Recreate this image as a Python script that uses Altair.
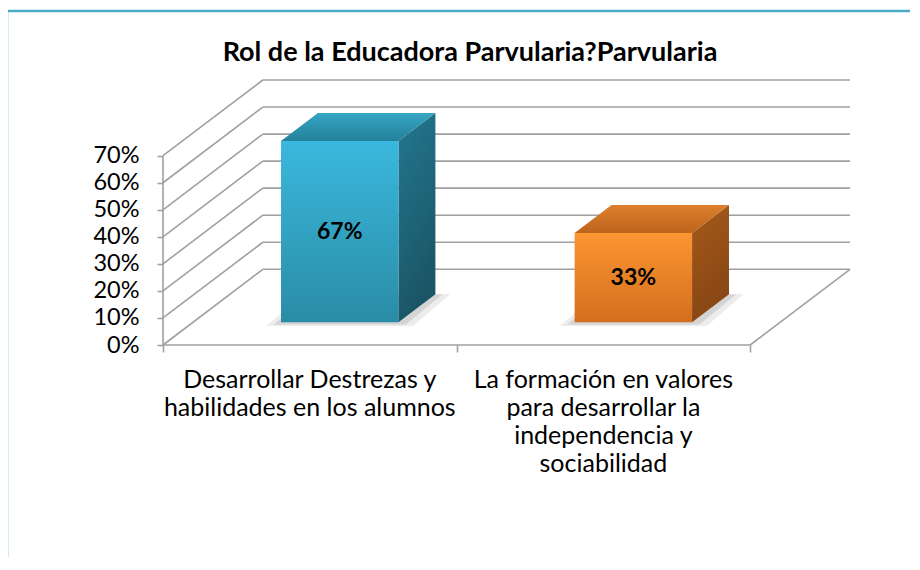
import altair as alt
import pandas as pd

# ---------------- data ----------------
categories = [
    "Desarrollar Destrezas y\nhabilidades en los alumnos",
    "La formación en valores\npara desarrollar la\nindependencia  y\nsociabilidad",
]
values = [0.67, 0.33]
value_labels = ["67%", "33%"]
y_ticks = [0.0, 0.1, 0.2, 0.3, 0.4, 0.5, 0.6, 0.7]
title_text = "Rol de la Educadora Parvularia?Parvularia"

# ---------------- styles ----------------
front_top = ["#3AB8DD", "#FC9532"]
front_bottom = ["#2A8CA6", "#D46F1E"]
top_light = ["#36A6C4", "#DD7F2D"]
top_dark = ["#23809A", "#BD641C"]
side_top = ["#237890", "#A55A1A"]
side_bottom = ["#1A5565", "#874614"]

FONT = "Lato"
GRID = "#A0A0A0"
FRAME = "#4BACC6"
DX, DY = 0.34, 0.28          # depth of the 3D box (x in category units, y in value units)
FRONT, DEPTH, BAR_W = 0.30, 0.37, 0.40
n = len(categories)

xs = alt.Scale(domain=[0, n + DX], nice=False, zero=False)
ys = alt.Scale(domain=[0, 0.98], nice=False, zero=False)
x_axis = alt.Axis(values=list(range(n + 1)), labels=False, domain=False, grid=False,
                  ticks=True, tickSize=7, tickColor=GRID, tickWidth=1.6, title=None)
y_axis = alt.Axis(values=y_ticks, format=".0%", domain=False, grid=False, tickSize=6,
                  tickColor=GRID, tickWidth=1.6, labelFont=FONT, labelFontSize=23.5,
                  labelColor="black", labelPadding=18, title=None)


def X(f="x"):
    return alt.X(f"{f}:Q", scale=xs, axis=x_axis)


def Y(f="y"):
    return alt.Y(f"{f}:Q", scale=ys, axis=y_axis)


def grad(c1, c2, x2=0, y2=1):
    return alt.LinearGradient(
        gradient="linear",
        stops=[alt.GradientStop(color=c1, offset=0), alt.GradientStop(color=c2, offset=1)],
        x1=0, y1=0, x2=x2, y2=y2,
    )


# ---------------- chart frame ----------------
frame = alt.Chart(pd.DataFrame({"a": [0]})).mark_rect(
    fill="transparent", stroke=FRAME, strokeWidth=2.5
).encode(x=alt.value(-156), x2=alt.value(900), y=alt.value(-69), y2=alt.value(700))

# ---------------- walls / floor / axes lines ----------------
rows = []
for v in y_ticks:
    rows.append(dict(x=DX, x2=n + DX, y=v + DY, y2=v + DY))   # back wall
    rows.append(dict(x=0, x2=DX, y=v, y2=v + DY))             # left wall
rows.append(dict(x=n, x2=n + DX, y=0, y2=DY))                 # floor right edge
rows.append(dict(x=0, x2=n, y=0, y2=0))                       # floor front edge
rows.append(dict(x=0, x2=0, y=0, y2=y_ticks[-1]))             # vertical axis line
lines = alt.Chart(pd.DataFrame(rows)).mark_rule(color=GRID, strokeWidth=1.6).encode(
    x=X(), x2="x2:Q", y=Y(), y2="y2:Q"
)

layers = [frame, lines]

# ---------------- 3D bars ----------------
for i, (cat, h) in enumerate(zip(categories, values)):
    cx = i + 0.5
    x0 = cx - BAR_W / 2 + FRONT * DX
    x1 = x0 + BAR_W
    b = FRONT * DY
    ddx, ddy = DEPTH * DX, DEPTH * DY

    for e, lo, op in [(0.05, 0.014, 0.22), (0.025, 0.008, 0.35)]:
        shadow = pd.DataFrame({
            "x": [x0 - e, x0 - e + ddx, x1 + e, x1 + e + ddx],
            "y": [b - lo, b - lo, b - lo, b + ddy],
            "y2": [b - lo, b + ddy, b + ddy, b + ddy],
        })
        layers.append(alt.Chart(shadow).mark_area(color="#A8A8A8", opacity=op).encode(
            x=X(), y=Y(), y2="y2:Q"))

    side = pd.DataFrame({"x": [x1, x1 + ddx], "y": [b, b + ddy], "y2": [b + h, b + h + ddy]})
    layers.append(alt.Chart(side).mark_area(
        color=grad(side_top[i], side_bottom[i], x2=0.3, y2=1)).encode(
        x=X(), y=Y(), y2="y2:Q"))

    top = pd.DataFrame({
        "x": [x0, x0 + ddx, x1, x1 + ddx],
        "y": [b + h, b + h, b + h, b + h + ddy],
        "y2": [b + h, b + h + ddy, b + h + ddy, b + h + ddy],
    })
    layers.append(alt.Chart(top).mark_area(
        color=grad(top_light[i], top_dark[i], x2=0, y2=1)).encode(
        x=X(), y=Y(), y2="y2:Q"))

    front = pd.DataFrame({"x": [x0], "x2": [x1], "y": [b], "y2": [b + h]})
    layers.append(alt.Chart(front).mark_rect(
        color=grad(front_top[i], front_bottom[i], x2=0, y2=1)).encode(
        x=X(), x2="x2:Q", y=Y(), y2="y2:Q"))

    lab = pd.DataFrame({"x": [(x0 + x1) / 2], "y": [b + h / 2], "t": [value_labels[i]]})
    layers.append(alt.Chart(lab).mark_text(
        font=FONT, fontSize=23, fontWeight="bold", color="black", baseline="middle",
        align="center").encode(x=X(), y=Y(), text="t:N"))

# ---------------- category labels ----------------
cat_df = pd.DataFrame({"x": [i + 0.5 for i in range(n)], "y": [0.0] * n, "t": categories})
layers.append(alt.Chart(cat_df).mark_text(
    font=FONT, fontSize=25, lineBreak="\n", lineHeight=28, baseline="top", dy=23,
    align="center", color="black").encode(x=X(), y=Y(), text="t:N"))

# ---------------- title ----------------
title_df = pd.DataFrame({"t": [title_text]})
layers.append(alt.Chart(title_df).mark_text(
    font=FONT, fontSize=27, fontWeight="bold", color="black", baseline="middle",
    align="center").encode(x=alt.value(307), y=alt.value(-27), text="t:N"))

chart = alt.layer(*layers).properties(
    width=687, height=265,
    padding={"left": 155, "top": 72, "right": 60, "bottom": 212},
    autosize=alt.AutoSizeParams(type="none"),
).configure_view(stroke=None)

chart.save("out.html", embed_options={"renderer": "svg", "actions": False})
